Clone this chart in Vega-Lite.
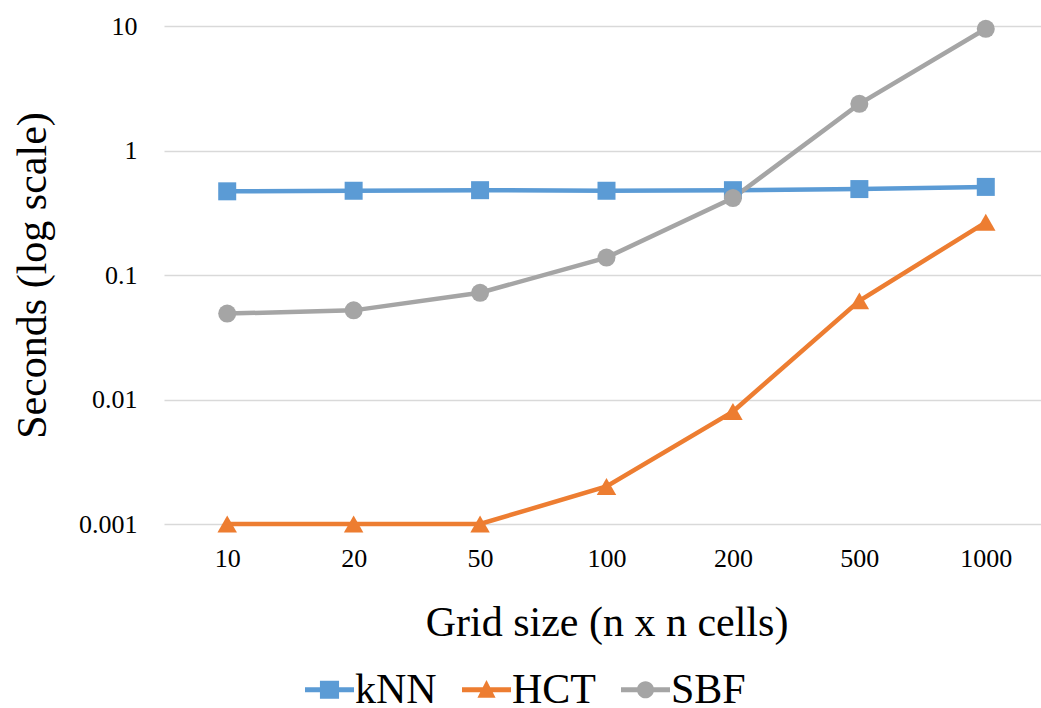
{
  "$schema": "https://vega.github.io/schema/vega-lite/v6.json",
  "width": 885,
  "height": 498,
  "autosize": {"type": "none"},
  "padding": {"left": 164, "top": 26, "right": -8, "bottom": 184},
  "background": "white",
  "config": {
    "font": "Liberation Serif",
    "axis": {"labelFont": "Liberation Serif", "titleFont": "Liberation Serif"},
    "legend": {"labelFont": "Liberation Serif", "titleFont": "Liberation Serif"},
    "view": {"stroke": null}
  },
  "data": {
    "values": [
      {"grid": "10", "method": "kNN", "seconds": 0.47},
      {"grid": "20", "method": "kNN", "seconds": 0.475},
      {"grid": "50", "method": "kNN", "seconds": 0.48},
      {"grid": "100", "method": "kNN", "seconds": 0.475},
      {"grid": "200", "method": "kNN", "seconds": 0.48},
      {"grid": "500", "method": "kNN", "seconds": 0.49},
      {"grid": "1000", "method": "kNN", "seconds": 0.51},
      {"grid": "10", "method": "HCT", "seconds": 0.001},
      {"grid": "20", "method": "HCT", "seconds": 0.001},
      {"grid": "50", "method": "HCT", "seconds": 0.001},
      {"grid": "100", "method": "HCT", "seconds": 0.002},
      {"grid": "200", "method": "HCT", "seconds": 0.008},
      {"grid": "500", "method": "HCT", "seconds": 0.062},
      {"grid": "1000", "method": "HCT", "seconds": 0.265},
      {"grid": "10", "method": "SBF", "seconds": 0.049},
      {"grid": "20", "method": "SBF", "seconds": 0.052},
      {"grid": "50", "method": "SBF", "seconds": 0.072},
      {"grid": "100", "method": "SBF", "seconds": 0.138},
      {"grid": "200", "method": "SBF", "seconds": 0.415},
      {"grid": "500", "method": "SBF", "seconds": 2.37},
      {"grid": "1000", "method": "SBF", "seconds": 9.5}
    ]
  },
  "encoding": {
    "x": {
      "field": "grid",
      "type": "ordinal",
      "sort": ["10", "20", "50", "100", "200", "500", "1000"],
      "scale": {"type": "point", "padding": 0.5},
      "axis": {
        "title": "Grid size (n x n cells)",
        "titleFontSize": 42,
        "titleFontWeight": "normal",
        "titleColor": "black",
        "titlePadding": 31,
        "labelFontSize": 26,
        "labelColor": "black",
        "labelAngle": 0,
        "labelPadding": 21,
        "domain": false,
        "ticks": false,
        "grid": false
      }
    },
    "y": {
      "field": "seconds",
      "type": "quantitative",
      "scale": {"type": "log", "domain": [0.001, 10], "nice": false},
      "axis": {
        "title": "Seconds (log scale)",
        "titleFontSize": 42,
        "titleFontWeight": "normal",
        "titleColor": "black",
        "titlePadding": 24,
        "values": [0.001, 0.01, 0.1, 1, 10],
        "format": "~g",
        "labelFontSize": 26,
        "labelColor": "black",
        "labelPadding": 27,
        "domain": false,
        "ticks": false,
        "grid": true,
        "gridColor": "#d9d9d9",
        "gridWidth": 1.5
      }
    },
    "color": {
      "field": "method",
      "type": "nominal",
      "sort": ["kNN", "HCT", "SBF"],
      "scale": {"domain": ["kNN", "HCT", "SBF"], "range": ["#5b9bd5", "#ed7d31", "#a5a5a5"]},
      "legend": {
        "title": null,
        "orient": "none",
        "direction": "horizontal",
        "legendX": 141,
        "legendY": 639,
        "labelFontSize": 42,
        "labelColor": "black",
        "labelOffset": 1,
        "columnPadding": 25,
        "symbolSize": 2401,
        "encode": {
          "symbols": {
            "update": {
              "shape": {"signal": "datum.value === 'kNN' ? 'M-1,-0.1H1V0.1H-1Z M-0.39,-0.37H0.39V0.37H-0.39Z' : datum.value === 'HCT' ? 'M-1,-0.1H1V0.1H-1Z M0,-0.4L0.37,0.33H-0.37Z' : 'M-1,-0.1H1V0.1H-1Z M-0.35,0A0.35,0.35 0 1,1 0.35,0A0.35,0.35 0 1,1 -0.35,0Z'"},
              "fill": {"signal": "scale('color', datum.value)"},
              "stroke": {"value": "transparent"},
              "strokeWidth": {"value": 0},
              "opacity": {"value": 1}
            }
          }
        }
      }
    }
  },
  "layer": [
    {
      "mark": {"type": "line", "strokeWidth": 4.5}
    },
    {
      "transform": [{"filter": "datum.method === 'kNN'"}],
      "mark": {"type": "point", "shape": "square", "filled": true, "opacity": 1, "size": 324}
    },
    {
      "transform": [{"filter": "datum.method === 'HCT'"}],
      "mark": {"type": "point", "shape": "triangle-up", "filled": true, "opacity": 1, "size": 380}
    },
    {
      "transform": [{"filter": "datum.method === 'SBF'"}],
      "mark": {"type": "point", "shape": "circle", "filled": true, "opacity": 1, "size": 324}
    }
  ]
}
